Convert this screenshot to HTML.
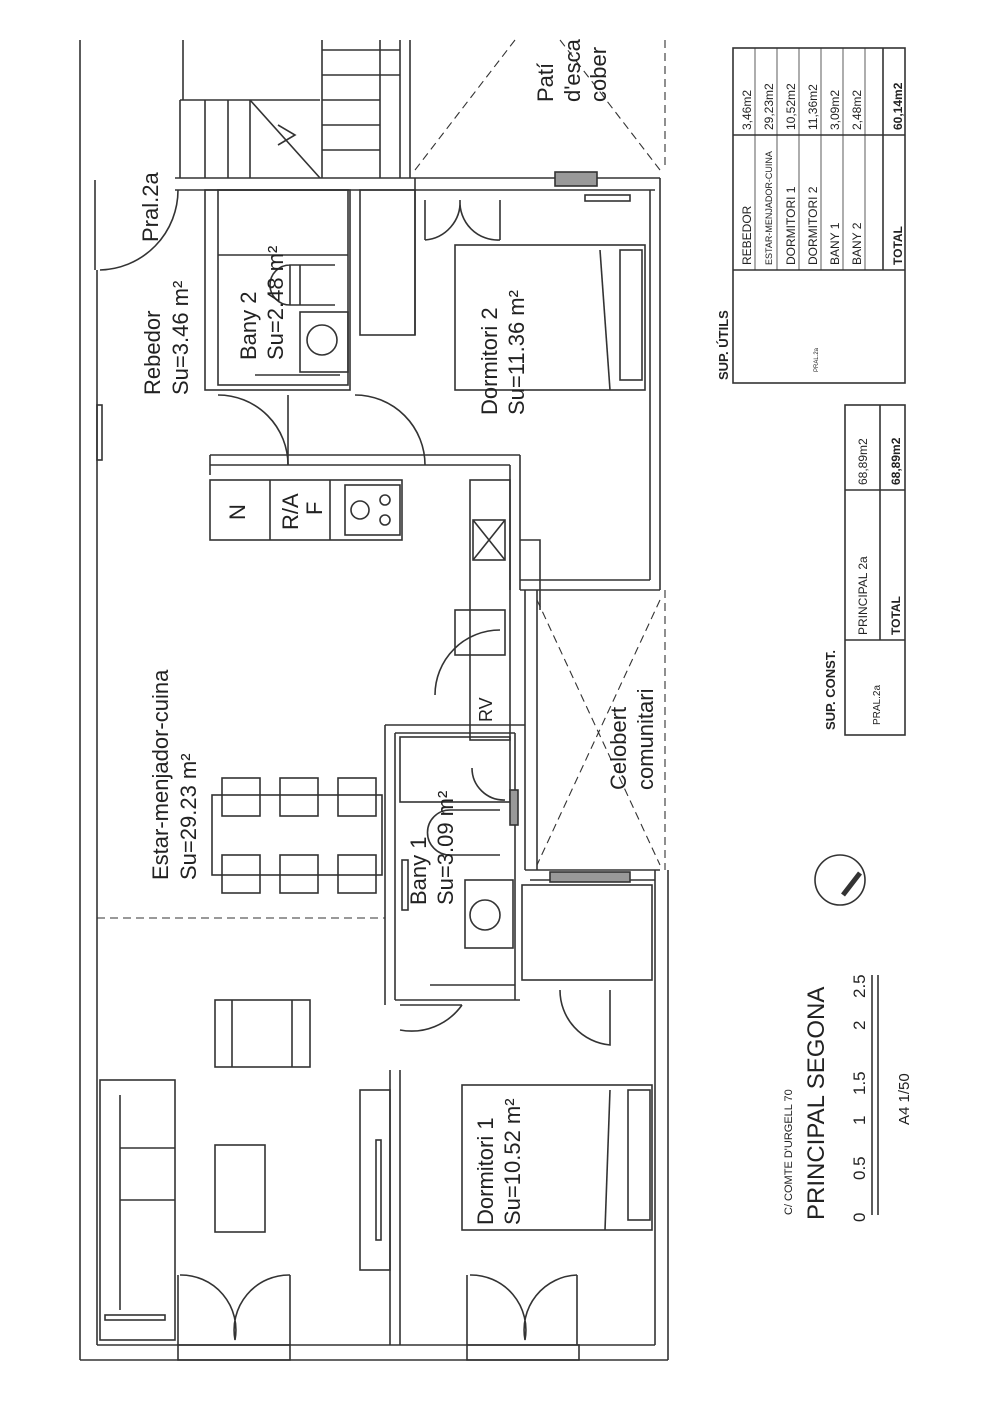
<!DOCTYPE html>
<html><head><meta charset="utf-8"><style>
html,body{margin:0;padding:0;background:#fff}
svg{display:block}
text{font-family:"Liberation Sans",sans-serif;fill:#222}
</style></head><body>
<svg width="1000" height="1419" viewBox="0 0 1000 1419" xmlns="http://www.w3.org/2000/svg">
<g fill="none" stroke="#333" stroke-width="1.6">
<!-- outer walls -->
<line x1="80" y1="40" x2="80" y2="1360"/>
<line x1="97" y1="270" x2="97" y2="1345"/>
<line x1="97" y1="1345" x2="655" y2="1345"/>
<line x1="80" y1="1360" x2="668" y2="1360"/>
<line x1="655" y1="870" x2="655" y2="1345"/>
<line x1="668" y1="870" x2="668" y2="1360"/>
<line x1="95" y1="180" x2="95" y2="270"/>
<!-- top entrance / stairs -->
<line x1="175" y1="178" x2="415" y2="178"/>
<line x1="175" y1="190" x2="415" y2="190"/>
<line x1="183" y1="40" x2="183" y2="100"/>
<line x1="180" y1="100" x2="180" y2="178"/>
<line x1="180" y1="100" x2="320" y2="100"/>
<line x1="205" y1="100" x2="205" y2="178"/>
<line x1="228" y1="100" x2="228" y2="178"/>
<line x1="250" y1="100" x2="250" y2="178"/>
<line x1="322" y1="40" x2="322" y2="178"/>
<line x1="322" y1="50" x2="400" y2="50"/>
<line x1="322" y1="75" x2="400" y2="75"/>
<line x1="322" y1="100" x2="380" y2="100"/>
<line x1="322" y1="125" x2="380" y2="125"/>
<line x1="322" y1="150" x2="380" y2="150"/>
<line x1="380" y1="40" x2="380" y2="178"/>
<line x1="400" y1="40" x2="400" y2="178"/>
<line x1="410" y1="40" x2="410" y2="178"/>
<line x1="250" y1="100" x2="320" y2="178"/>
<polyline points="278,125 295,135 278,145"/>
<!-- Pral door -->
<path d="M100,270 A80,80 0 0 0 178,190"/>
<!-- Bany 2 -->
<rect x="205" y="190" width="145" height="200"/>
<rect x="218" y="190" width="130" height="195"/>
<line x1="218" y1="255" x2="348" y2="255"/>
<path d="M300,265 h-10 a20,20 0 0 0 0,40 h10 z M335,265 h-45 v40 h45"/>
<rect x="300" y="312" width="48" height="60"/>
<circle cx="322" cy="340" r="15"/>
<line x1="255" y1="375" x2="340" y2="375"/>
<!-- closet right -->
<rect x="360" y="190" width="55" height="145"/>
<line x1="415" y1="178" x2="415" y2="335"/>
<!-- doors rebedor -->
<path d="M218,395 A70,70 0 0 1 288,465"/>
<path d="M355,395 A70,70 0 0 1 425,465"/>
<line x1="288" y1="395" x2="288" y2="465"/>
<!-- kitchen walls -->
<line x1="210" y1="455" x2="520" y2="455"/>
<line x1="210" y1="465" x2="510" y2="465"/>
<line x1="210" y1="455" x2="210" y2="475"/>
<line x1="520" y1="455" x2="520" y2="590"/>
<line x1="510" y1="465" x2="510" y2="590"/>
<rect x="210" y="480" width="192" height="60"/>
<line x1="270" y1="480" x2="270" y2="540"/>
<line x1="330" y1="480" x2="330" y2="540"/>
<rect x="345" y="485" width="55" height="50"/>
<circle cx="360" cy="510" r="9"/><circle cx="385" cy="500" r="5"/><circle cx="385" cy="520" r="5"/>
<rect x="470" y="480" width="40" height="260"/>
<rect x="473" y="520" width="32" height="40"/>
<line x1="473" y1="520" x2="505" y2="560"/><line x1="505" y1="520" x2="473" y2="560"/>
<path d="M520,540 h20 v70"/>
<rect x="455" y="610" width="50" height="45"/>
<path d="M435,695 A65,65 0 0 1 500,630"/>
<text x="0" y="0" font-size="18" transform="translate(492,722) rotate(-90)" stroke="none">RV</text>
<!-- dormitori 2 -->
<line x1="415" y1="178" x2="660" y2="178"/>
<line x1="415" y1="190" x2="655" y2="190"/>
<line x1="660" y1="178" x2="660" y2="590"/>
<line x1="650" y1="190" x2="650" y2="580"/>
<line x1="520" y1="580" x2="650" y2="580"/>
<line x1="520" y1="590" x2="660" y2="590"/>
<rect x="555" y="172" width="42" height="14" fill="#999"/>
<rect x="585" y="195" width="45" height="6"/>
<path d="M425,200 v40 M500,200 v40"/>
<path d="M425,240 A38,38 0 0 0 460,200 A38,38 0 0 0 500,240"/>
<rect x="455" y="245" width="190" height="145"/>
<rect x="620" y="250" width="22" height="130"/>
<line x1="600" y1="250" x2="610" y2="390"/>
<!-- celobert -->
<line x1="525" y1="590" x2="525" y2="870"/>
<line x1="537" y1="590" x2="537" y2="870"/>
<line x1="525" y1="870" x2="660" y2="870"/>
<line x1="530" y1="880" x2="655" y2="880"/>
<rect x="550" y="872" width="80" height="10" fill="#999"/>
<g stroke-dasharray="8,5" stroke-width="1.1">
<line x1="537" y1="600" x2="660" y2="865"/>
<line x1="660" y1="600" x2="537" y2="865"/>
<line x1="665" y1="40" x2="665" y2="170"/>
<line x1="665" y1="590" x2="665" y2="870"/>
<line x1="415" y1="170" x2="515" y2="40"/>
<line x1="660" y1="170" x2="560" y2="40"/>
<line x1="97" y1="918" x2="385" y2="918"/>
</g>
<!-- Bany 1 -->
<line x1="385" y1="725" x2="385" y2="1005"/>
<line x1="395" y1="733" x2="395" y2="1000"/>
<line x1="385" y1="725" x2="525" y2="725"/>
<line x1="395" y1="733" x2="515" y2="733"/>
<line x1="515" y1="733" x2="515" y2="1000"/>
<rect x="400" y="737" width="110" height="65"/>
<path d="M472,768 A32,32 0 0 0 505,800"/>
<rect x="510" y="790" width="8" height="35" fill="#999"/>
<path d="M500,810 h-50 a22,22 0 0 0 0,45 h50"/>
<rect x="465" y="880" width="48" height="68"/>
<circle cx="485" cy="915" r="15"/>
<line x1="430" y1="985" x2="515" y2="985"/>
<rect x="402" y="860" width="6" height="50"/>
<line x1="395" y1="1000" x2="520" y2="1000"/>
<!-- small room between bany1 and dormitori 1 -->
<rect x="522" y="885" width="130" height="95"/>
<path d="M560,990 A55,55 0 0 0 610,1045 v-55"/>
<!-- door livingroom to dorm1 -->
<path d="M400,1030 A62,62 0 0 0 462,1005"/>
<line x1="390" y1="1070" x2="390" y2="1345"/>
<line x1="400" y1="1070" x2="400" y2="1345"/>
<line x1="400" y1="1005" x2="462" y2="1005"/>
<rect x="462" y="1085" width="190" height="145"/>
<rect x="628" y="1090" width="22" height="130"/>
<line x1="610" y1="1090" x2="605" y2="1230"/>
<rect x="360" y="1090" width="30" height="180"/>
<rect x="376" y="1140" width="5" height="100"/>
<!-- dining -->
<rect x="212" y="795" width="170" height="80"/>
<rect x="222" y="778" width="38" height="38"/><rect x="280" y="778" width="38" height="38"/><rect x="338" y="778" width="38" height="38"/>
<rect x="222" y="855" width="38" height="38"/><rect x="280" y="855" width="38" height="38"/><rect x="338" y="855" width="38" height="38"/>
<!-- living -->
<rect x="215" y="1000" width="95" height="67"/>
<line x1="232" y1="1000" x2="232" y2="1067"/><line x1="292" y1="1000" x2="292" y2="1067"/>
<rect x="215" y="1145" width="50" height="87"/>
<rect x="100" y="1080" width="75" height="260"/>
<line x1="120" y1="1095" x2="120" y2="1310"/>
<line x1="120" y1="1148" x2="175" y2="1148"/><line x1="120" y1="1200" x2="175" y2="1200"/>
<!-- balcony doors -->
<path d="M178,1275 v70 M290,1275 v70"/>
<path d="M180,1275 A55,55 0 0 1 235,1340 A55,55 0 0 1 290,1275"/>
<path d="M467,1275 v70 M577,1275 v70"/>
<path d="M470,1275 A55,55 0 0 1 525,1340 A55,55 0 0 1 577,1275"/>
<rect x="178" y="1345" width="112" height="15"/>
<rect x="467" y="1345" width="112" height="15"/>
<rect x="105" y="1315" width="60" height="5"/>
<rect x="97" y="405" width="5" height="55"/>
<!-- tables -->
<rect x="733" y="48" width="172" height="335"/>
<g stroke-width="0.8"><line x1="755" y1="48" x2="755" y2="270"/><line x1="777" y1="48" x2="777" y2="270"/><line x1="799" y1="48" x2="799" y2="270"/><line x1="821" y1="48" x2="821" y2="270"/><line x1="843" y1="48" x2="843" y2="270"/><line x1="865" y1="48" x2="865" y2="270"/></g>
<line x1="883" y1="48" x2="883" y2="270"/>
<line x1="733" y1="135" x2="905" y2="135"/>
<line x1="733" y1="270" x2="905" y2="270"/>
<rect x="845" y="405" width="60" height="330"/>
<line x1="880" y1="405" x2="880" y2="640"/>
<line x1="845" y1="490" x2="905" y2="490"/>
<line x1="845" y1="640" x2="905" y2="640"/>
<!-- compass -->
<circle cx="840" cy="880" r="25"/>
<line x1="843" y1="895" x2="860" y2="873" stroke-width="5"/>
<!-- scale -->
<line x1="872" y1="975" x2="872" y2="1215"/>
<line x1="878" y1="975" x2="878" y2="1215"/>
</g>
<g stroke="none">
<g font-size="22">
<text transform="translate(158,242) rotate(-90)">Pral.2a</text>
<text transform="translate(160,395) rotate(-90)">Rebedor</text>
<text transform="translate(188,395) rotate(-90)">Su=3.46 m²</text>
<text transform="translate(256,360) rotate(-90)">Bany 2</text>
<text transform="translate(283,360) rotate(-90)">Su=2.48 m²</text>
<text transform="translate(497,415) rotate(-90)">Dormitori 2</text>
<text transform="translate(524,415) rotate(-90)">Su=11.36 m²</text>
<text transform="translate(168,880) rotate(-90)">Estar-menjador-cuina</text>
<text transform="translate(196,880) rotate(-90)">Su=29.23 m²</text>
<text transform="translate(426,905) rotate(-90)">Bany 1</text>
<text transform="translate(453,905) rotate(-90)">Su=3.09 m²</text>
<text transform="translate(626,790) rotate(-90)">Celobert</text>
<text transform="translate(653,790) rotate(-90)">comunitari</text>
<text transform="translate(493,1225) rotate(-90)">Dormitori 1</text>
<text transform="translate(520,1225) rotate(-90)">Su=10.52 m²</text>
<text transform="translate(553,102) rotate(-90)">Patí</text>
<text transform="translate(580,102) rotate(-90)">d'esca</text>
<text transform="translate(606,102) rotate(-90)">cober</text>
<text transform="translate(245,520) rotate(-90)">N</text>
<text transform="translate(298,530) rotate(-90)">R/A</text>
<text transform="translate(322,515) rotate(-90)">F</text>
</g>
<text transform="translate(792,1215) rotate(-90)" font-size="11">C/ COMTE D'URGELL 70</text>
<text transform="translate(824,1220) rotate(-90)" font-size="24">PRINCIPAL SEGONA</text>
<text transform="translate(909,1125) rotate(-90)" font-size="15">A4 1/50</text>
<g font-size="17">
<text transform="translate(865,1222) rotate(-90)">0</text>
<text transform="translate(865,1180) rotate(-90)">0.5</text>
<text transform="translate(865,1125) rotate(-90)">1</text>
<text transform="translate(865,1095) rotate(-90)">1.5</text>
<text transform="translate(865,1030) rotate(-90)">2</text>
<text transform="translate(865,998) rotate(-90)">2.5</text>
</g>
<text transform="translate(728,380) rotate(-90)" font-size="13" font-weight="bold">SUP. ÚTILS</text>
<g font-size="12">
<text transform="translate(751,265) rotate(-90)">REBEDOR</text>
<text transform="translate(772,265) rotate(-90)" font-size="9">ESTAR-MENJADOR-CUINA</text>
<text transform="translate(795,265) rotate(-90)">DORMITORI 1</text>
<text transform="translate(817,265) rotate(-90)">DORMITORI 2</text>
<text transform="translate(839,265) rotate(-90)">BANY 1</text>
<text transform="translate(861,265) rotate(-90)">BANY 2</text>
<text transform="translate(902,265) rotate(-90)" font-weight="bold">TOTAL</text>
<text transform="translate(751,130) rotate(-90)" text-anchor="start">3,46m2</text>
<text transform="translate(773,130) rotate(-90)">29,23m2</text>
<text transform="translate(795,130) rotate(-90)">10,52m2</text>
<text transform="translate(817,130) rotate(-90)">11,36m2</text>
<text transform="translate(839,130) rotate(-90)">3,09m2</text>
<text transform="translate(861,130) rotate(-90)">2,48m2</text>
<text transform="translate(902,130) rotate(-90)" font-weight="bold">60,14m2</text>
<text transform="translate(818,372) rotate(-90)" font-size="6">PRAL.2a</text>
<text transform="translate(835,730) rotate(-90)" font-size="13" font-weight="bold">SUP. CONST.</text>
<text transform="translate(867,635) rotate(-90)">PRINCIPAL 2a</text>
<text transform="translate(867,485) rotate(-90)">68,89m2</text>
<text transform="translate(900,635) rotate(-90)" font-weight="bold">TOTAL</text>
<text transform="translate(900,485) rotate(-90)" font-weight="bold">68,89m2</text>
<text transform="translate(880,725) rotate(-90)" font-size="10">PRAL.2a</text>
</g>
</g>
</svg>
</body></html>
